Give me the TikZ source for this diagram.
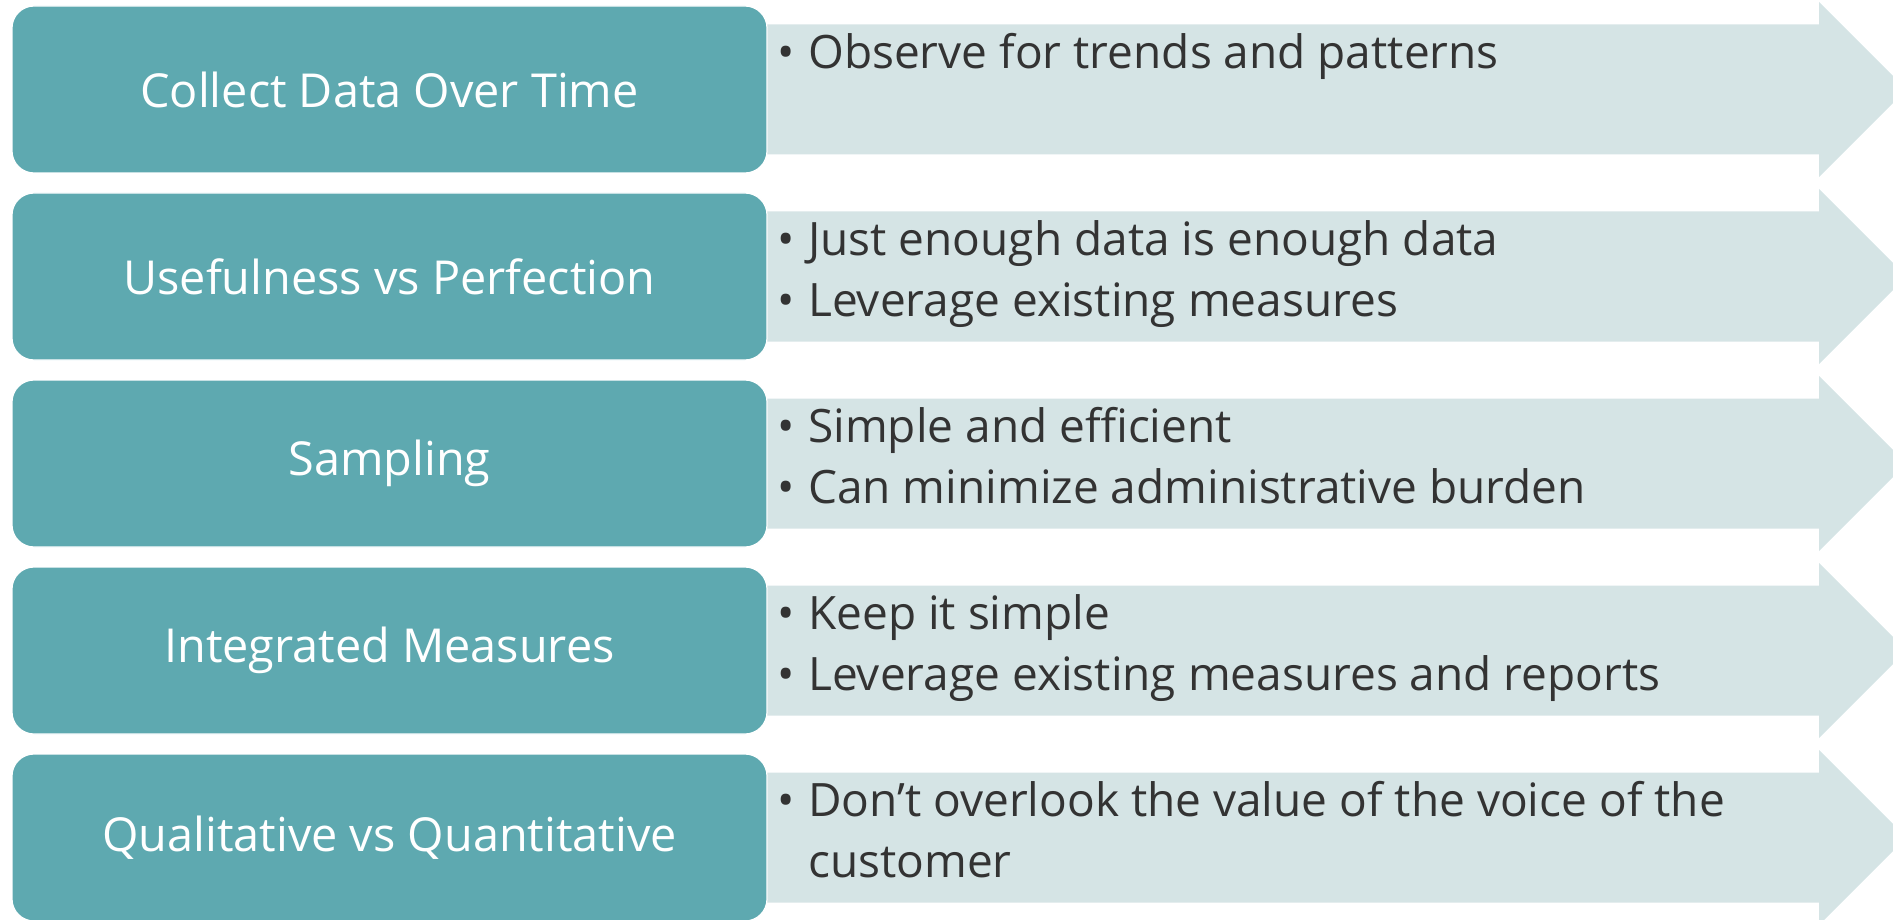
\documentclass[tikz,border=0pt]{standalone}
\usepackage{fontspec}
\setmainfont{Open Sans}
\definecolor{teal}{HTML}{5EA9B0}
\definecolor{pale}{HTML}{D5E4E5}
\definecolor{ink}{HTML}{333333}
\newcommand{\bul}{\makebox[31pt][l]{\textbullet}}
\begin{document}
\begin{tikzpicture}[x=1pt,y=-1pt,
  catbox/.style={draw=white,line width=1.2pt,fill=teal,rounded corners=22pt,
    minimum width=755pt,minimum height=167pt,inner sep=0pt,
    text=white,font=\fontsize{46.8}{54}\selectfont},
  pointlist/.style={anchor=base west,inner sep=0pt,text=ink,
    font=\fontsize{46}{61}\selectfont}]
\useasboundingbox (0,0) rectangle (1893,920);
\clip (0,0) rectangle (1893,920);
% shaft and head of each arrow, row centre c
\foreach \c in {89.5,276.5,463.5,650.5,837.5}{
  \fill[pale] (767,\c-65) -- (1819,\c-65) -- (1819,\c-87.5) -- (1906.5,\c)
    -- (1819,\c+87.5) -- (1819,\c+65) -- (767,\c+65) -- cycle;
}
% category boxes
\node[catbox] (b1) at (389.5,89.5)  {Collect Data Over Time};
\node[catbox] (b2) at (389.5,276.5) {Usefulness vs Perfection};
\node[catbox] (b3) at (389.5,463.5) {Sampling};
\node[catbox] (b4) at (389.5,650.5) {Integrated Measures};
\node[catbox] (b5) at (389.5,837.5) {Qualitative vs Quantitative};
% bullet points, first baseline 21pt above the row centre
\node[pointlist] (p1) at (777,68.5) {\begin{tabular}[t]{@{}l@{}l@{}}
  \bul & Observe for trends and patterns\end{tabular}};
\node[pointlist] (p2) at (777,255.5) {\begin{tabular}[t]{@{}l@{}l@{}}
  \bul & Just enough data is enough data\\
  \bul & Leverage existing measures\end{tabular}};
\node[pointlist] (p3) at (777,442.5) {\begin{tabular}[t]{@{}l@{}l@{}}
  \bul & Simple and efficient\\
  \bul & Can minimize administrative burden\end{tabular}};
\node[pointlist] (p4) at (777,629.5) {\begin{tabular}[t]{@{}l@{}l@{}}
  \bul & Keep it simple\\
  \bul & Leverage existing measures and reports\end{tabular}};
\node[pointlist] (p5) at (777,816.5) {\begin{tabular}[t]{@{}l@{}l@{}}
  \bul & Don’t overlook the value of the voice of the\\
   & customer\end{tabular}};
\end{tikzpicture}
\end{document}
